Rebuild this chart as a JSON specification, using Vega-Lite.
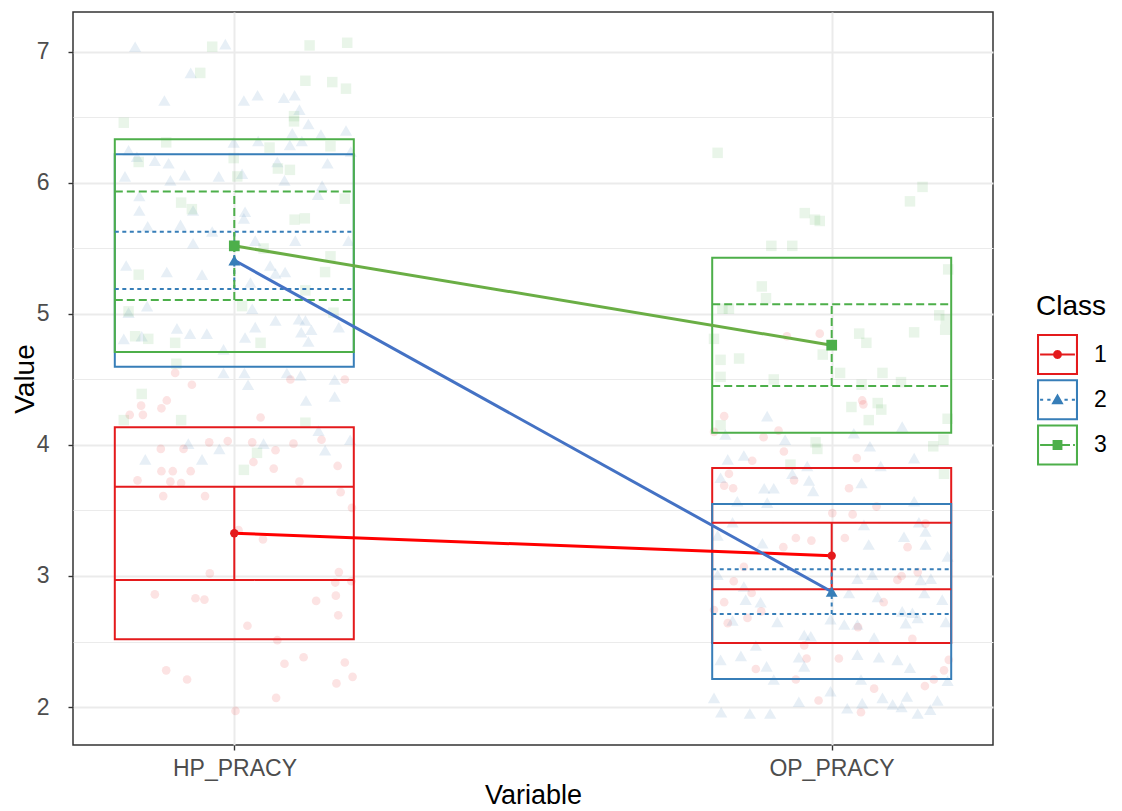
{
  "$schema": "https://vega.github.io/schema/vega-lite/v6.json",
  "width": 920,
  "height": 733,
  "autosize": "none",
  "padding": {"left": 73, "top": 12, "right": 129, "bottom": 66},
  "background": "white",
  "config": {
    "view": {"stroke": "#333333", "strokeWidth": 1.5},
    "axis": {
      "domain": false,
      "tickColor": "#333333",
      "tickSize": 5,
      "tickWidth": 1.4,
      "labelColor": "#4D4D4D",
      "labelFont": "Liberation Sans",
      "labelFontSize": 23,
      "titleFont": "Liberation Sans",
      "titleFontSize": 28,
      "titleFontWeight": "normal",
      "titleColor": "#000000",
      "gridColor": "#EBEBEB",
      "gridWidth": 2
    }
  },
  "datasets": {
    "summary": [
      {"Variable": "HP_PRACY", "Class": "1", "x": 1, "Mean": 3.326, "CI_low": 2.969, "CI_high": 3.682, "SD_low": 2.517, "SD_high": 4.135},
      {"Variable": "HP_PRACY", "Class": "2", "x": 1, "Mean": 5.41, "CI_low": 5.191, "CI_high": 5.628, "SD_low": 4.598, "SD_high": 6.219},
      {"Variable": "HP_PRACY", "Class": "3", "x": 1, "Mean": 5.52, "CI_low": 5.107, "CI_high": 5.934, "SD_low": 4.71, "SD_high": 6.334},
      {"Variable": "OP_PRACY", "Class": "1", "x": 2, "Mean": 3.155, "CI_low": 2.898, "CI_high": 3.407, "SD_low": 2.488, "SD_high": 3.824},
      {"Variable": "OP_PRACY", "Class": "2", "x": 2, "Mean": 2.88, "CI_low": 2.71, "CI_high": 3.051, "SD_low": 2.214, "SD_high": 3.55},
      {"Variable": "OP_PRACY", "Class": "3", "x": 2, "Mean": 4.762, "CI_low": 4.45, "CI_high": 5.074, "SD_low": 4.094, "SD_high": 5.43}
    ],
    "jitter": [
      {"Variable": "HP_PRACY", "Class": "2", "x": 0.834, "Value": 7.04},
      {"Variable": "HP_PRACY", "Class": "2", "x": 0.985, "Value": 7.06},
      {"Variable": "HP_PRACY", "Class": "2", "x": 0.927, "Value": 6.84},
      {"Variable": "HP_PRACY", "Class": "2", "x": 0.883, "Value": 6.63},
      {"Variable": "HP_PRACY", "Class": "2", "x": 1.016, "Value": 6.63},
      {"Variable": "HP_PRACY", "Class": "2", "x": 1.039, "Value": 6.67},
      {"Variable": "HP_PRACY", "Class": "2", "x": 1.101, "Value": 6.67},
      {"Variable": "HP_PRACY", "Class": "2", "x": 1.083, "Value": 6.65},
      {"Variable": "HP_PRACY", "Class": "2", "x": 1.109, "Value": 6.56},
      {"Variable": "HP_PRACY", "Class": "2", "x": 1.124, "Value": 6.45},
      {"Variable": "HP_PRACY", "Class": "2", "x": 1.097, "Value": 6.38},
      {"Variable": "HP_PRACY", "Class": "2", "x": 1.145, "Value": 6.37},
      {"Variable": "HP_PRACY", "Class": "2", "x": 1.187, "Value": 6.40},
      {"Variable": "HP_PRACY", "Class": "2", "x": 1.113, "Value": 6.32},
      {"Variable": "HP_PRACY", "Class": "2", "x": 1.093, "Value": 6.29},
      {"Variable": "HP_PRACY", "Class": "2", "x": 1.040, "Value": 6.32},
      {"Variable": "HP_PRACY", "Class": "2", "x": 0.999, "Value": 6.31},
      {"Variable": "HP_PRACY", "Class": "2", "x": 0.823, "Value": 6.25},
      {"Variable": "HP_PRACY", "Class": "2", "x": 0.837, "Value": 6.20},
      {"Variable": "HP_PRACY", "Class": "2", "x": 0.867, "Value": 6.17},
      {"Variable": "HP_PRACY", "Class": "2", "x": 0.890, "Value": 6.15},
      {"Variable": "HP_PRACY", "Class": "2", "x": 0.817, "Value": 6.05},
      {"Variable": "HP_PRACY", "Class": "2", "x": 0.893, "Value": 6.02},
      {"Variable": "HP_PRACY", "Class": "2", "x": 0.917, "Value": 6.06},
      {"Variable": "HP_PRACY", "Class": "2", "x": 0.974, "Value": 6.05},
      {"Variable": "HP_PRACY", "Class": "2", "x": 1.013, "Value": 6.07},
      {"Variable": "HP_PRACY", "Class": "2", "x": 1.072, "Value": 6.16},
      {"Variable": "HP_PRACY", "Class": "2", "x": 1.084, "Value": 6.02},
      {"Variable": "HP_PRACY", "Class": "2", "x": 1.156, "Value": 6.15},
      {"Variable": "HP_PRACY", "Class": "2", "x": 1.147, "Value": 5.98},
      {"Variable": "HP_PRACY", "Class": "2", "x": 1.195, "Value": 6.24},
      {"Variable": "HP_PRACY", "Class": "2", "x": 0.841, "Value": 5.90},
      {"Variable": "HP_PRACY", "Class": "2", "x": 0.841, "Value": 5.79},
      {"Variable": "HP_PRACY", "Class": "2", "x": 0.931, "Value": 5.79},
      {"Variable": "HP_PRACY", "Class": "2", "x": 1.018, "Value": 5.78},
      {"Variable": "HP_PRACY", "Class": "2", "x": 1.016, "Value": 5.73},
      {"Variable": "HP_PRACY", "Class": "2", "x": 0.855, "Value": 5.67},
      {"Variable": "HP_PRACY", "Class": "2", "x": 0.910, "Value": 5.68},
      {"Variable": "HP_PRACY", "Class": "2", "x": 0.963, "Value": 5.63},
      {"Variable": "HP_PRACY", "Class": "2", "x": 1.102, "Value": 5.56},
      {"Variable": "HP_PRACY", "Class": "2", "x": 1.035, "Value": 5.56},
      {"Variable": "HP_PRACY", "Class": "2", "x": 0.931, "Value": 5.54},
      {"Variable": "HP_PRACY", "Class": "2", "x": 1.191, "Value": 5.56},
      {"Variable": "HP_PRACY", "Class": "2", "x": 1.140, "Value": 5.91},
      {"Variable": "HP_PRACY", "Class": "2", "x": 0.819, "Value": 5.37},
      {"Variable": "HP_PRACY", "Class": "2", "x": 0.887, "Value": 5.32},
      {"Variable": "HP_PRACY", "Class": "2", "x": 0.946, "Value": 5.30},
      {"Variable": "HP_PRACY", "Class": "2", "x": 1.027, "Value": 5.24},
      {"Variable": "HP_PRACY", "Class": "2", "x": 1.060, "Value": 5.37},
      {"Variable": "HP_PRACY", "Class": "2", "x": 1.085, "Value": 5.32},
      {"Variable": "HP_PRACY", "Class": "2", "x": 1.069, "Value": 5.31},
      {"Variable": "HP_PRACY", "Class": "2", "x": 0.854, "Value": 5.06},
      {"Variable": "HP_PRACY", "Class": "2", "x": 0.823, "Value": 5.01},
      {"Variable": "HP_PRACY", "Class": "2", "x": 1.030, "Value": 5.04},
      {"Variable": "HP_PRACY", "Class": "2", "x": 1.035, "Value": 4.90},
      {"Variable": "HP_PRACY", "Class": "2", "x": 1.069, "Value": 4.95},
      {"Variable": "HP_PRACY", "Class": "2", "x": 1.108, "Value": 4.96},
      {"Variable": "HP_PRACY", "Class": "2", "x": 1.119, "Value": 4.95},
      {"Variable": "HP_PRACY", "Class": "2", "x": 1.129, "Value": 4.88},
      {"Variable": "HP_PRACY", "Class": "2", "x": 1.112, "Value": 4.86},
      {"Variable": "HP_PRACY", "Class": "2", "x": 1.124, "Value": 4.79},
      {"Variable": "HP_PRACY", "Class": "2", "x": 1.175, "Value": 4.90},
      {"Variable": "HP_PRACY", "Class": "2", "x": 0.904, "Value": 4.89},
      {"Variable": "HP_PRACY", "Class": "2", "x": 0.926, "Value": 4.85},
      {"Variable": "HP_PRACY", "Class": "2", "x": 0.954, "Value": 4.85},
      {"Variable": "HP_PRACY", "Class": "2", "x": 0.845, "Value": 4.83},
      {"Variable": "HP_PRACY", "Class": "2", "x": 0.815, "Value": 4.81},
      {"Variable": "HP_PRACY", "Class": "2", "x": 1.018, "Value": 4.82},
      {"Variable": "HP_PRACY", "Class": "2", "x": 0.982, "Value": 4.73},
      {"Variable": "HP_PRACY", "Class": "2", "x": 0.982, "Value": 4.55},
      {"Variable": "HP_PRACY", "Class": "2", "x": 1.017, "Value": 4.55},
      {"Variable": "HP_PRACY", "Class": "2", "x": 1.088, "Value": 4.55},
      {"Variable": "HP_PRACY", "Class": "2", "x": 1.111, "Value": 4.53},
      {"Variable": "HP_PRACY", "Class": "2", "x": 1.168, "Value": 4.50},
      {"Variable": "HP_PRACY", "Class": "2", "x": 1.168, "Value": 4.37},
      {"Variable": "HP_PRACY", "Class": "2", "x": 1.120, "Value": 4.34},
      {"Variable": "HP_PRACY", "Class": "2", "x": 1.023, "Value": 4.46},
      {"Variable": "HP_PRACY", "Class": "2", "x": 1.141, "Value": 4.11},
      {"Variable": "HP_PRACY", "Class": "2", "x": 1.194, "Value": 4.04},
      {"Variable": "HP_PRACY", "Class": "2", "x": 1.049, "Value": 4.01},
      {"Variable": "HP_PRACY", "Class": "2", "x": 0.975, "Value": 3.97},
      {"Variable": "HP_PRACY", "Class": "2", "x": 0.946, "Value": 3.89},
      {"Variable": "HP_PRACY", "Class": "2", "x": 1.152, "Value": 3.96},
      {"Variable": "HP_PRACY", "Class": "2", "x": 0.851, "Value": 3.89},
      {"Variable": "HP_PRACY", "Class": "2", "x": 0.923, "Value": 4.01},
      {"Variable": "HP_PRACY", "Class": "3", "x": 0.963, "Value": 7.04},
      {"Variable": "HP_PRACY", "Class": "3", "x": 1.126, "Value": 7.05},
      {"Variable": "HP_PRACY", "Class": "3", "x": 1.189, "Value": 7.07},
      {"Variable": "HP_PRACY", "Class": "3", "x": 0.943, "Value": 6.84},
      {"Variable": "HP_PRACY", "Class": "3", "x": 1.119, "Value": 6.78},
      {"Variable": "HP_PRACY", "Class": "3", "x": 1.164, "Value": 6.77},
      {"Variable": "HP_PRACY", "Class": "3", "x": 1.187, "Value": 6.72},
      {"Variable": "HP_PRACY", "Class": "3", "x": 0.815, "Value": 6.46},
      {"Variable": "HP_PRACY", "Class": "3", "x": 1.100, "Value": 6.51},
      {"Variable": "HP_PRACY", "Class": "3", "x": 1.100, "Value": 6.47},
      {"Variable": "HP_PRACY", "Class": "3", "x": 0.886, "Value": 6.31},
      {"Variable": "HP_PRACY", "Class": "3", "x": 1.059, "Value": 6.27},
      {"Variable": "HP_PRACY", "Class": "3", "x": 1.161, "Value": 6.28},
      {"Variable": "HP_PRACY", "Class": "3", "x": 0.840, "Value": 6.16},
      {"Variable": "HP_PRACY", "Class": "3", "x": 0.999, "Value": 6.19},
      {"Variable": "HP_PRACY", "Class": "3", "x": 1.073, "Value": 6.11},
      {"Variable": "HP_PRACY", "Class": "3", "x": 1.093, "Value": 6.10},
      {"Variable": "HP_PRACY", "Class": "3", "x": 1.005, "Value": 6.05},
      {"Variable": "HP_PRACY", "Class": "3", "x": 0.911, "Value": 5.85},
      {"Variable": "HP_PRACY", "Class": "3", "x": 0.929, "Value": 5.80},
      {"Variable": "HP_PRACY", "Class": "3", "x": 1.101, "Value": 5.72},
      {"Variable": "HP_PRACY", "Class": "3", "x": 1.118, "Value": 5.73},
      {"Variable": "HP_PRACY", "Class": "3", "x": 1.185, "Value": 5.88},
      {"Variable": "HP_PRACY", "Class": "3", "x": 1.049, "Value": 5.50},
      {"Variable": "HP_PRACY", "Class": "3", "x": 1.161, "Value": 5.44},
      {"Variable": "HP_PRACY", "Class": "3", "x": 0.840, "Value": 5.30},
      {"Variable": "HP_PRACY", "Class": "3", "x": 1.152, "Value": 5.32},
      {"Variable": "HP_PRACY", "Class": "3", "x": 1.119, "Value": 5.18},
      {"Variable": "HP_PRACY", "Class": "3", "x": 1.013, "Value": 5.06},
      {"Variable": "HP_PRACY", "Class": "3", "x": 0.823, "Value": 5.02},
      {"Variable": "HP_PRACY", "Class": "3", "x": 1.166, "Value": 5.01},
      {"Variable": "HP_PRACY", "Class": "3", "x": 0.834, "Value": 4.83},
      {"Variable": "HP_PRACY", "Class": "3", "x": 0.856, "Value": 4.81},
      {"Variable": "HP_PRACY", "Class": "3", "x": 0.901, "Value": 4.78},
      {"Variable": "HP_PRACY", "Class": "3", "x": 1.044, "Value": 4.78},
      {"Variable": "HP_PRACY", "Class": "3", "x": 0.903, "Value": 4.62},
      {"Variable": "HP_PRACY", "Class": "3", "x": 0.845, "Value": 4.39},
      {"Variable": "HP_PRACY", "Class": "3", "x": 0.911, "Value": 4.19},
      {"Variable": "HP_PRACY", "Class": "3", "x": 0.815, "Value": 4.19},
      {"Variable": "HP_PRACY", "Class": "3", "x": 1.119, "Value": 4.17},
      {"Variable": "HP_PRACY", "Class": "3", "x": 1.038, "Value": 3.94},
      {"Variable": "HP_PRACY", "Class": "3", "x": 1.016, "Value": 3.81},
      {"Variable": "HP_PRACY", "Class": "1", "x": 0.901, "Value": 4.55},
      {"Variable": "HP_PRACY", "Class": "1", "x": 0.929, "Value": 4.46},
      {"Variable": "HP_PRACY", "Class": "1", "x": 0.887, "Value": 4.34},
      {"Variable": "HP_PRACY", "Class": "1", "x": 0.844, "Value": 4.30},
      {"Variable": "HP_PRACY", "Class": "1", "x": 0.878, "Value": 4.28},
      {"Variable": "HP_PRACY", "Class": "1", "x": 0.825, "Value": 4.23},
      {"Variable": "HP_PRACY", "Class": "1", "x": 0.847, "Value": 4.23},
      {"Variable": "HP_PRACY", "Class": "1", "x": 1.044, "Value": 4.21},
      {"Variable": "HP_PRACY", "Class": "1", "x": 1.094, "Value": 4.50},
      {"Variable": "HP_PRACY", "Class": "1", "x": 1.185, "Value": 4.50},
      {"Variable": "HP_PRACY", "Class": "1", "x": 0.958, "Value": 4.02},
      {"Variable": "HP_PRACY", "Class": "1", "x": 0.989, "Value": 4.03},
      {"Variable": "HP_PRACY", "Class": "1", "x": 1.030, "Value": 4.02},
      {"Variable": "HP_PRACY", "Class": "1", "x": 1.069, "Value": 3.96},
      {"Variable": "HP_PRACY", "Class": "1", "x": 1.099, "Value": 4.01},
      {"Variable": "HP_PRACY", "Class": "1", "x": 1.146, "Value": 4.04},
      {"Variable": "HP_PRACY", "Class": "1", "x": 0.877, "Value": 3.97},
      {"Variable": "HP_PRACY", "Class": "1", "x": 0.915, "Value": 3.97},
      {"Variable": "HP_PRACY", "Class": "1", "x": 1.032, "Value": 3.87},
      {"Variable": "HP_PRACY", "Class": "1", "x": 1.066, "Value": 3.82},
      {"Variable": "HP_PRACY", "Class": "1", "x": 1.173, "Value": 3.84},
      {"Variable": "HP_PRACY", "Class": "1", "x": 0.878, "Value": 3.80},
      {"Variable": "HP_PRACY", "Class": "1", "x": 0.897, "Value": 3.80},
      {"Variable": "HP_PRACY", "Class": "1", "x": 0.927, "Value": 3.80},
      {"Variable": "HP_PRACY", "Class": "1", "x": 0.838, "Value": 3.73},
      {"Variable": "HP_PRACY", "Class": "1", "x": 0.893, "Value": 3.72},
      {"Variable": "HP_PRACY", "Class": "1", "x": 0.911, "Value": 3.71},
      {"Variable": "HP_PRACY", "Class": "1", "x": 1.109, "Value": 3.72},
      {"Variable": "HP_PRACY", "Class": "1", "x": 0.881, "Value": 3.61},
      {"Variable": "HP_PRACY", "Class": "1", "x": 0.951, "Value": 3.61},
      {"Variable": "HP_PRACY", "Class": "1", "x": 1.178, "Value": 3.64},
      {"Variable": "HP_PRACY", "Class": "1", "x": 1.197, "Value": 3.52},
      {"Variable": "HP_PRACY", "Class": "1", "x": 1.007, "Value": 3.35},
      {"Variable": "HP_PRACY", "Class": "1", "x": 1.048, "Value": 3.28},
      {"Variable": "HP_PRACY", "Class": "1", "x": 0.959, "Value": 3.02},
      {"Variable": "HP_PRACY", "Class": "1", "x": 1.175, "Value": 3.03},
      {"Variable": "HP_PRACY", "Class": "1", "x": 1.169, "Value": 2.95},
      {"Variable": "HP_PRACY", "Class": "1", "x": 1.196, "Value": 2.96},
      {"Variable": "HP_PRACY", "Class": "1", "x": 0.867, "Value": 2.86},
      {"Variable": "HP_PRACY", "Class": "1", "x": 0.935, "Value": 2.83},
      {"Variable": "HP_PRACY", "Class": "1", "x": 0.950, "Value": 2.82},
      {"Variable": "HP_PRACY", "Class": "1", "x": 1.170, "Value": 2.85},
      {"Variable": "HP_PRACY", "Class": "1", "x": 1.137, "Value": 2.81},
      {"Variable": "HP_PRACY", "Class": "1", "x": 1.174, "Value": 2.70},
      {"Variable": "HP_PRACY", "Class": "1", "x": 1.022, "Value": 2.62},
      {"Variable": "HP_PRACY", "Class": "1", "x": 1.072, "Value": 2.51},
      {"Variable": "HP_PRACY", "Class": "1", "x": 0.886, "Value": 2.28},
      {"Variable": "HP_PRACY", "Class": "1", "x": 0.921, "Value": 2.21},
      {"Variable": "HP_PRACY", "Class": "1", "x": 1.084, "Value": 2.33},
      {"Variable": "HP_PRACY", "Class": "1", "x": 1.116, "Value": 2.38},
      {"Variable": "HP_PRACY", "Class": "1", "x": 1.185, "Value": 2.34},
      {"Variable": "HP_PRACY", "Class": "1", "x": 1.198, "Value": 2.23},
      {"Variable": "HP_PRACY", "Class": "1", "x": 1.171, "Value": 2.18},
      {"Variable": "HP_PRACY", "Class": "1", "x": 1.070, "Value": 2.07},
      {"Variable": "HP_PRACY", "Class": "1", "x": 1.002, "Value": 1.97},
      {"Variable": "OP_PRACY", "Class": "3", "x": 1.809, "Value": 6.23},
      {"Variable": "OP_PRACY", "Class": "3", "x": 2.152, "Value": 5.97},
      {"Variable": "OP_PRACY", "Class": "3", "x": 2.131, "Value": 5.86},
      {"Variable": "OP_PRACY", "Class": "3", "x": 1.955, "Value": 5.77},
      {"Variable": "OP_PRACY", "Class": "3", "x": 1.972, "Value": 5.72},
      {"Variable": "OP_PRACY", "Class": "3", "x": 1.980, "Value": 5.71},
      {"Variable": "OP_PRACY", "Class": "3", "x": 1.899, "Value": 5.52},
      {"Variable": "OP_PRACY", "Class": "3", "x": 1.934, "Value": 5.52},
      {"Variable": "OP_PRACY", "Class": "3", "x": 2.195, "Value": 5.34},
      {"Variable": "OP_PRACY", "Class": "3", "x": 1.883, "Value": 5.21},
      {"Variable": "OP_PRACY", "Class": "3", "x": 1.890, "Value": 5.12},
      {"Variable": "OP_PRACY", "Class": "3", "x": 1.817, "Value": 5.04},
      {"Variable": "OP_PRACY", "Class": "3", "x": 1.828, "Value": 5.04},
      {"Variable": "OP_PRACY", "Class": "3", "x": 2.180, "Value": 4.99},
      {"Variable": "OP_PRACY", "Class": "3", "x": 2.191, "Value": 4.96},
      {"Variable": "OP_PRACY", "Class": "3", "x": 2.190, "Value": 4.88},
      {"Variable": "OP_PRACY", "Class": "3", "x": 1.803, "Value": 4.81},
      {"Variable": "OP_PRACY", "Class": "3", "x": 2.046, "Value": 4.85},
      {"Variable": "OP_PRACY", "Class": "3", "x": 2.058, "Value": 4.78},
      {"Variable": "OP_PRACY", "Class": "3", "x": 2.138, "Value": 4.86},
      {"Variable": "OP_PRACY", "Class": "3", "x": 1.985, "Value": 4.69},
      {"Variable": "OP_PRACY", "Class": "3", "x": 1.814, "Value": 4.65},
      {"Variable": "OP_PRACY", "Class": "3", "x": 1.845, "Value": 4.66},
      {"Variable": "OP_PRACY", "Class": "3", "x": 1.814, "Value": 4.52},
      {"Variable": "OP_PRACY", "Class": "3", "x": 1.903, "Value": 4.50},
      {"Variable": "OP_PRACY", "Class": "3", "x": 2.014, "Value": 4.55},
      {"Variable": "OP_PRACY", "Class": "3", "x": 2.085, "Value": 4.55},
      {"Variable": "OP_PRACY", "Class": "3", "x": 2.116, "Value": 4.48},
      {"Variable": "OP_PRACY", "Class": "3", "x": 2.050, "Value": 4.46},
      {"Variable": "OP_PRACY", "Class": "3", "x": 2.033, "Value": 4.29},
      {"Variable": "OP_PRACY", "Class": "3", "x": 2.077, "Value": 4.32},
      {"Variable": "OP_PRACY", "Class": "3", "x": 2.083, "Value": 4.27},
      {"Variable": "OP_PRACY", "Class": "3", "x": 2.062, "Value": 4.19},
      {"Variable": "OP_PRACY", "Class": "3", "x": 2.194, "Value": 4.20},
      {"Variable": "OP_PRACY", "Class": "3", "x": 1.973, "Value": 4.02},
      {"Variable": "OP_PRACY", "Class": "3", "x": 1.976, "Value": 3.97},
      {"Variable": "OP_PRACY", "Class": "3", "x": 2.187, "Value": 4.04},
      {"Variable": "OP_PRACY", "Class": "3", "x": 2.170, "Value": 3.99},
      {"Variable": "OP_PRACY", "Class": "3", "x": 1.814, "Value": 4.15},
      {"Variable": "OP_PRACY", "Class": "3", "x": 1.931, "Value": 3.85},
      {"Variable": "OP_PRACY", "Class": "3", "x": 2.188, "Value": 3.78},
      {"Variable": "OP_PRACY", "Class": "1", "x": 1.925, "Value": 4.83},
      {"Variable": "OP_PRACY", "Class": "1", "x": 1.980, "Value": 4.85},
      {"Variable": "OP_PRACY", "Class": "1", "x": 1.820, "Value": 4.22},
      {"Variable": "OP_PRACY", "Class": "1", "x": 1.803, "Value": 4.10},
      {"Variable": "OP_PRACY", "Class": "1", "x": 1.886, "Value": 4.06},
      {"Variable": "OP_PRACY", "Class": "1", "x": 1.911, "Value": 4.11},
      {"Variable": "OP_PRACY", "Class": "1", "x": 1.920, "Value": 3.95},
      {"Variable": "OP_PRACY", "Class": "1", "x": 2.051, "Value": 4.34},
      {"Variable": "OP_PRACY", "Class": "1", "x": 2.053, "Value": 4.31},
      {"Variable": "OP_PRACY", "Class": "1", "x": 2.042, "Value": 3.90},
      {"Variable": "OP_PRACY", "Class": "1", "x": 1.867, "Value": 3.88},
      {"Variable": "OP_PRACY", "Class": "1", "x": 1.828, "Value": 3.78},
      {"Variable": "OP_PRACY", "Class": "1", "x": 1.820, "Value": 3.69},
      {"Variable": "OP_PRACY", "Class": "1", "x": 1.835, "Value": 3.67},
      {"Variable": "OP_PRACY", "Class": "1", "x": 1.937, "Value": 3.73},
      {"Variable": "OP_PRACY", "Class": "1", "x": 2.029, "Value": 3.67},
      {"Variable": "OP_PRACY", "Class": "1", "x": 2.001, "Value": 3.48},
      {"Variable": "OP_PRACY", "Class": "1", "x": 2.035, "Value": 3.47},
      {"Variable": "OP_PRACY", "Class": "1", "x": 2.075, "Value": 3.53},
      {"Variable": "OP_PRACY", "Class": "1", "x": 2.157, "Value": 3.40},
      {"Variable": "OP_PRACY", "Class": "1", "x": 1.940, "Value": 3.29},
      {"Variable": "OP_PRACY", "Class": "1", "x": 1.966, "Value": 3.27},
      {"Variable": "OP_PRACY", "Class": "1", "x": 2.022, "Value": 3.29},
      {"Variable": "OP_PRACY", "Class": "1", "x": 1.919, "Value": 3.22},
      {"Variable": "OP_PRACY", "Class": "1", "x": 2.127, "Value": 3.22},
      {"Variable": "OP_PRACY", "Class": "1", "x": 1.836, "Value": 2.96},
      {"Variable": "OP_PRACY", "Class": "1", "x": 1.820, "Value": 2.80},
      {"Variable": "OP_PRACY", "Class": "1", "x": 1.803, "Value": 2.74},
      {"Variable": "OP_PRACY", "Class": "1", "x": 1.826, "Value": 2.64},
      {"Variable": "OP_PRACY", "Class": "1", "x": 1.859, "Value": 2.68},
      {"Variable": "OP_PRACY", "Class": "1", "x": 1.882, "Value": 2.73},
      {"Variable": "OP_PRACY", "Class": "1", "x": 1.866, "Value": 2.87},
      {"Variable": "OP_PRACY", "Class": "1", "x": 1.853, "Value": 3.07},
      {"Variable": "OP_PRACY", "Class": "1", "x": 2.087, "Value": 2.80},
      {"Variable": "OP_PRACY", "Class": "1", "x": 2.110, "Value": 2.97},
      {"Variable": "OP_PRACY", "Class": "1", "x": 2.117, "Value": 3.00},
      {"Variable": "OP_PRACY", "Class": "1", "x": 2.144, "Value": 3.03},
      {"Variable": "OP_PRACY", "Class": "1", "x": 2.044, "Value": 2.61},
      {"Variable": "OP_PRACY", "Class": "1", "x": 2.135, "Value": 2.52},
      {"Variable": "OP_PRACY", "Class": "1", "x": 1.954, "Value": 2.47},
      {"Variable": "OP_PRACY", "Class": "1", "x": 1.958, "Value": 2.37},
      {"Variable": "OP_PRACY", "Class": "1", "x": 2.012, "Value": 2.37},
      {"Variable": "OP_PRACY", "Class": "1", "x": 1.873, "Value": 2.29},
      {"Variable": "OP_PRACY", "Class": "1", "x": 1.940, "Value": 2.21},
      {"Variable": "OP_PRACY", "Class": "1", "x": 2.071, "Value": 2.14},
      {"Variable": "OP_PRACY", "Class": "1", "x": 2.156, "Value": 2.16},
      {"Variable": "OP_PRACY", "Class": "1", "x": 2.171, "Value": 2.21},
      {"Variable": "OP_PRACY", "Class": "1", "x": 2.196, "Value": 2.36},
      {"Variable": "OP_PRACY", "Class": "1", "x": 2.188, "Value": 2.28},
      {"Variable": "OP_PRACY", "Class": "1", "x": 1.978, "Value": 2.05},
      {"Variable": "OP_PRACY", "Class": "1", "x": 2.049, "Value": 1.96},
      {"Variable": "OP_PRACY", "Class": "2", "x": 1.822, "Value": 4.08},
      {"Variable": "OP_PRACY", "Class": "2", "x": 1.892, "Value": 4.22},
      {"Variable": "OP_PRACY", "Class": "2", "x": 1.922, "Value": 4.04},
      {"Variable": "OP_PRACY", "Class": "2", "x": 2.037, "Value": 4.09},
      {"Variable": "OP_PRACY", "Class": "2", "x": 2.064, "Value": 3.99},
      {"Variable": "OP_PRACY", "Class": "2", "x": 2.118, "Value": 4.14},
      {"Variable": "OP_PRACY", "Class": "2", "x": 2.138, "Value": 3.90},
      {"Variable": "OP_PRACY", "Class": "2", "x": 1.826, "Value": 3.89},
      {"Variable": "OP_PRACY", "Class": "2", "x": 1.853, "Value": 3.92},
      {"Variable": "OP_PRACY", "Class": "2", "x": 1.959, "Value": 3.84},
      {"Variable": "OP_PRACY", "Class": "2", "x": 1.934, "Value": 3.78},
      {"Variable": "OP_PRACY", "Class": "2", "x": 2.082, "Value": 3.84},
      {"Variable": "OP_PRACY", "Class": "2", "x": 1.814, "Value": 3.75},
      {"Variable": "OP_PRACY", "Class": "2", "x": 1.962, "Value": 3.73},
      {"Variable": "OP_PRACY", "Class": "2", "x": 2.050, "Value": 3.71},
      {"Variable": "OP_PRACY", "Class": "2", "x": 1.887, "Value": 3.67},
      {"Variable": "OP_PRACY", "Class": "2", "x": 1.903, "Value": 3.67},
      {"Variable": "OP_PRACY", "Class": "2", "x": 1.969, "Value": 3.65},
      {"Variable": "OP_PRACY", "Class": "2", "x": 1.842, "Value": 3.57},
      {"Variable": "OP_PRACY", "Class": "2", "x": 1.892, "Value": 3.56},
      {"Variable": "OP_PRACY", "Class": "2", "x": 2.138, "Value": 3.57},
      {"Variable": "OP_PRACY", "Class": "2", "x": 1.834, "Value": 3.41},
      {"Variable": "OP_PRACY", "Class": "2", "x": 2.054, "Value": 3.39},
      {"Variable": "OP_PRACY", "Class": "2", "x": 2.146, "Value": 3.41},
      {"Variable": "OP_PRACY", "Class": "2", "x": 2.157, "Value": 3.34},
      {"Variable": "OP_PRACY", "Class": "2", "x": 1.884, "Value": 3.25},
      {"Variable": "OP_PRACY", "Class": "2", "x": 1.809, "Value": 3.31},
      {"Variable": "OP_PRACY", "Class": "2", "x": 2.062, "Value": 3.24},
      {"Variable": "OP_PRACY", "Class": "2", "x": 2.121, "Value": 3.30},
      {"Variable": "OP_PRACY", "Class": "2", "x": 2.157, "Value": 3.24},
      {"Variable": "OP_PRACY", "Class": "2", "x": 2.194, "Value": 3.15},
      {"Variable": "OP_PRACY", "Class": "2", "x": 1.809, "Value": 3.01},
      {"Variable": "OP_PRACY", "Class": "2", "x": 1.853, "Value": 2.92},
      {"Variable": "OP_PRACY", "Class": "2", "x": 1.856, "Value": 2.82},
      {"Variable": "OP_PRACY", "Class": "2", "x": 2.043, "Value": 2.98},
      {"Variable": "OP_PRACY", "Class": "2", "x": 2.068, "Value": 3.01},
      {"Variable": "OP_PRACY", "Class": "2", "x": 2.149, "Value": 2.97},
      {"Variable": "OP_PRACY", "Class": "2", "x": 2.166, "Value": 2.98},
      {"Variable": "OP_PRACY", "Class": "2", "x": 2.029, "Value": 2.87},
      {"Variable": "OP_PRACY", "Class": "2", "x": 2.077, "Value": 2.84},
      {"Variable": "OP_PRACY", "Class": "2", "x": 2.155, "Value": 2.87},
      {"Variable": "OP_PRACY", "Class": "2", "x": 2.185, "Value": 2.82},
      {"Variable": "OP_PRACY", "Class": "2", "x": 1.881, "Value": 2.80},
      {"Variable": "OP_PRACY", "Class": "2", "x": 2.118, "Value": 2.73},
      {"Variable": "OP_PRACY", "Class": "2", "x": 2.135, "Value": 2.72},
      {"Variable": "OP_PRACY", "Class": "2", "x": 2.144, "Value": 2.68},
      {"Variable": "OP_PRACY", "Class": "2", "x": 1.834, "Value": 2.66},
      {"Variable": "OP_PRACY", "Class": "2", "x": 1.909, "Value": 2.65},
      {"Variable": "OP_PRACY", "Class": "2", "x": 1.998, "Value": 2.67},
      {"Variable": "OP_PRACY", "Class": "2", "x": 2.021, "Value": 2.63},
      {"Variable": "OP_PRACY", "Class": "2", "x": 2.043, "Value": 2.63},
      {"Variable": "OP_PRACY", "Class": "2", "x": 2.124, "Value": 2.64},
      {"Variable": "OP_PRACY", "Class": "2", "x": 2.191, "Value": 2.65},
      {"Variable": "OP_PRACY", "Class": "2", "x": 2.071, "Value": 2.53},
      {"Variable": "OP_PRACY", "Class": "2", "x": 1.954, "Value": 2.55},
      {"Variable": "OP_PRACY", "Class": "2", "x": 1.965, "Value": 2.54},
      {"Variable": "OP_PRACY", "Class": "2", "x": 1.873, "Value": 2.47},
      {"Variable": "OP_PRACY", "Class": "2", "x": 1.814, "Value": 2.36},
      {"Variable": "OP_PRACY", "Class": "2", "x": 1.848, "Value": 2.39},
      {"Variable": "OP_PRACY", "Class": "2", "x": 1.945, "Value": 2.38},
      {"Variable": "OP_PRACY", "Class": "2", "x": 2.043, "Value": 2.40},
      {"Variable": "OP_PRACY", "Class": "2", "x": 2.079, "Value": 2.38},
      {"Variable": "OP_PRACY", "Class": "2", "x": 2.110, "Value": 2.36},
      {"Variable": "OP_PRACY", "Class": "2", "x": 1.954, "Value": 2.31},
      {"Variable": "OP_PRACY", "Class": "2", "x": 1.891, "Value": 2.31},
      {"Variable": "OP_PRACY", "Class": "2", "x": 2.131, "Value": 2.30},
      {"Variable": "OP_PRACY", "Class": "2", "x": 1.903, "Value": 2.21},
      {"Variable": "OP_PRACY", "Class": "2", "x": 2.049, "Value": 2.21},
      {"Variable": "OP_PRACY", "Class": "2", "x": 2.194, "Value": 2.20},
      {"Variable": "OP_PRACY", "Class": "2", "x": 1.998, "Value": 2.12},
      {"Variable": "OP_PRACY", "Class": "2", "x": 1.803, "Value": 2.07},
      {"Variable": "OP_PRACY", "Class": "2", "x": 1.945, "Value": 2.04},
      {"Variable": "OP_PRACY", "Class": "2", "x": 2.085, "Value": 2.07},
      {"Variable": "OP_PRACY", "Class": "2", "x": 2.126, "Value": 2.08},
      {"Variable": "OP_PRACY", "Class": "2", "x": 2.177, "Value": 2.05},
      {"Variable": "OP_PRACY", "Class": "2", "x": 1.815, "Value": 1.96},
      {"Variable": "OP_PRACY", "Class": "2", "x": 1.863, "Value": 1.95},
      {"Variable": "OP_PRACY", "Class": "2", "x": 1.897, "Value": 1.95},
      {"Variable": "OP_PRACY", "Class": "2", "x": 2.026, "Value": 1.99},
      {"Variable": "OP_PRACY", "Class": "2", "x": 2.051, "Value": 2.03},
      {"Variable": "OP_PRACY", "Class": "2", "x": 2.102, "Value": 2.02},
      {"Variable": "OP_PRACY", "Class": "2", "x": 2.117, "Value": 2.00},
      {"Variable": "OP_PRACY", "Class": "2", "x": 2.144, "Value": 1.95},
      {"Variable": "OP_PRACY", "Class": "2", "x": 2.165, "Value": 1.98}
    ]
  },
  "resolve": {"scale": {"x": "independent", "y": "independent"}, "axis": {"x": "independent", "y": "independent"}},
  "layer": [
    {
      "resolve": {"axis": {"y": "independent"}},
      "layer": [
        {
          "data": {"name": "jitter"},
          "transform": [{"filter": "datum.Class === '1'"}],
          "mark": {"type": "point", "shape": "circle", "filled": true, "opacity": 0.12, "size": 75},
          "encoding": {
            "x": {"field": "x", "type": "quantitative", "scale": {"domain": [0.73, 2.27], "nice": false, "zero": false}, "axis": null},
            "y": {
              "field": "Value", "type": "quantitative",
              "scale": {"domain": [1.71, 7.305], "nice": false, "zero": false},
              "axis": {"values": [2, 3, 4, 5, 6, 7], "format": "d", "title": "Value", "grid": true, "orient": "left", "labelPadding": 19, "titlePadding": -3}
            },
            "color": {"field": "Class", "type": "nominal", "scale": {"domain": ["1", "2", "3"], "range": ["#E41A1C", "#377EB8", "#4DAF4A"]}, "legend": null}
          }
        },
        {
          "data": {"name": "jitter"},
          "transform": [{"filter": "datum.Class === '2'"}],
          "mark": {"type": "point", "shape": "triangle-up", "filled": true, "opacity": 0.12, "size": 150},
          "encoding": {
            "x": {"field": "x", "type": "quantitative", "axis": null},
            "y": {"field": "Value", "type": "quantitative", "axis": null},
            "color": {"field": "Class", "type": "nominal", "legend": null}
          }
        },
        {
          "data": {"name": "jitter"},
          "transform": [{"filter": "datum.Class === '3'"}],
          "mark": {"type": "point", "shape": "square", "filled": true, "opacity": 0.12, "size": 110},
          "encoding": {
            "x": {"field": "x", "type": "quantitative", "axis": null},
            "y": {"field": "Value", "type": "quantitative", "axis": null},
            "color": {"field": "Class", "type": "nominal", "legend": null}
          }
        },
        {
          "data": {"name": "summary"},
          "mark": {"type": "rect", "filled": false, "strokeWidth": 2, "xOffset": -119.5, "x2Offset": 119.5},
          "encoding": {
            "x": {"field": "x", "type": "quantitative", "axis": null},
            "x2": {"field": "x"},
            "y": {"field": "SD_low", "type": "quantitative", "axis": {"values": [2.5, 3.5, 4.5, 5.5, 6.5], "grid": true, "gridWidth": 1.1, "labels": false, "ticks": false, "domain": false, "title": null, "orient": "left"}},
            "y2": {"field": "SD_high"},
            "color": {"field": "Class", "type": "nominal", "legend": null}
          }
        },
        {
          "data": {"name": "summary"},
          "mark": {"type": "rule", "strokeWidth": 2, "xOffset": -119.5, "x2Offset": 119.5},
          "encoding": {
            "x": {"field": "x", "type": "quantitative", "axis": null},
            "x2": {"field": "x"},
            "y": {"field": "CI_low", "type": "quantitative", "axis": null},
            "color": {"field": "Class", "type": "nominal", "legend": null},
            "strokeDash": {"field": "Class", "type": "nominal", "scale": {"domain": ["1", "2", "3"], "range": [[1, 0], [4, 3.5], [8, 4]]}, "legend": null}
          }
        },
        {
          "data": {"name": "summary"},
          "mark": {"type": "rule", "strokeWidth": 2, "xOffset": -119.5, "x2Offset": 119.5},
          "encoding": {
            "x": {"field": "x", "type": "quantitative", "axis": null},
            "x2": {"field": "x"},
            "y": {"field": "CI_high", "type": "quantitative", "axis": null},
            "color": {"field": "Class", "type": "nominal", "legend": null},
            "strokeDash": {"field": "Class", "type": "nominal", "legend": null}
          }
        },
        {
          "data": {"name": "summary"},
          "mark": {"type": "rule", "strokeWidth": 2},
          "encoding": {
            "x": {"field": "x", "type": "quantitative", "axis": null},
            "y": {"field": "CI_low", "type": "quantitative", "axis": null},
            "y2": {"field": "CI_high"},
            "color": {"field": "Class", "type": "nominal", "legend": null},
            "strokeDash": {"field": "Class", "type": "nominal", "legend": null}
          }
        },
        {
          "data": {"name": "summary"},
          "mark": {"type": "line", "strokeWidth": 3},
          "encoding": {
            "x": {"field": "x", "type": "quantitative", "axis": null},
            "y": {"field": "Mean", "type": "quantitative", "axis": null},
            "stroke": {"field": "Class", "type": "nominal", "scale": {"domain": ["1", "2", "3"], "range": ["#FF0000", "#4472C4", "#6AAE45"]}, "legend": null}
          }
        },
        {
          "data": {"name": "summary"},
          "transform": [{"filter": "datum.Class === '1'"}],
          "mark": {"type": "point", "shape": "circle", "filled": true, "opacity": 1, "size": 70},
          "encoding": {
            "x": {"field": "x", "type": "quantitative", "axis": null},
            "y": {"field": "Mean", "type": "quantitative", "axis": null},
            "color": {"field": "Class", "type": "nominal", "legend": null}
          }
        },
        {
          "data": {"name": "summary"},
          "transform": [{"filter": "datum.Class === '2'"}],
          "mark": {"type": "point", "shape": "triangle-up", "filled": true, "opacity": 1, "size": 140},
          "encoding": {
            "x": {"field": "x", "type": "quantitative", "axis": null},
            "y": {"field": "Mean", "type": "quantitative", "axis": null},
            "color": {"field": "Class", "type": "nominal", "legend": null}
          }
        },
        {
          "data": {"name": "summary"},
          "transform": [{"filter": "datum.Class === '3'"}],
          "mark": {"type": "point", "shape": "square", "filled": true, "opacity": 1, "size": 115},
          "encoding": {
            "x": {"field": "x", "type": "quantitative", "axis": null},
            "y": {"field": "Mean", "type": "quantitative", "axis": null},
            "color": {"field": "Class", "type": "nominal", "legend": null}
          }
        }
      ]
    },
    {
      "data": {"name": "summary"},
      "mark": {"type": "point", "opacity": 0},
      "encoding": {
        "x": {
          "field": "Variable", "type": "nominal",
          "scale": {"type": "point", "domain": ["HP_PRACY", "OP_PRACY"], "padding": 0.2705},
          "axis": {"title": "Variable", "titleFontSize": 27, "grid": true, "labelAngle": 0, "labelPadding": 7, "titlePadding": 2, "orient": "bottom"}
        },
        "y": {"field": "Mean", "type": "quantitative", "axis": null}
      }
    },
    {
      "data": {"name": "summary"},
      "transform": [{"filter": "datum.x === 1"}],
      "encoding": {
        "x": {"field": "Variable", "type": "nominal", "scale": {"type": "point", "domain": ["HP_PRACY"], "range": [984.5, 984.5]}, "axis": null},
        "y": {"field": "Class", "type": "nominal", "scale": {"type": "point", "domain": ["1", "2", "3"], "range": [342.5, 433], "padding": 0}, "axis": null}
      },
      "layer": [
        {
          "mark": {"type": "point", "filled": true, "opacity": 1, "size": 1681, "strokeWidth": 0},
          "encoding": {
            "color": {"field": "Class", "type": "nominal", "legend": null},
            "shape": {
              "field": "Class", "type": "nominal", "legend": null,
              "scale": {"domain": ["1", "2", "3"], "range": [
                "M-1,-1H1V1H-1Z M-0.9,-0.9V0.9H0.9V-0.9Z M-0.85,-0.05H0.85V0.05H-0.85Z M0.22,0L0.19,0.11L0.11,0.19L0,0.22L-0.11,0.19L-0.19,0.11L-0.22,0L-0.19,-0.11L-0.11,-0.19L0,-0.22L0.11,-0.19L0.19,-0.11Z",
                "M-1,-1H1V1H-1Z M-0.9,-0.9V0.9H0.9V-0.9Z M-0.85,-0.05H-0.7V0.05H-0.85Z M-0.5,-0.05H-0.34V0.05H-0.5Z M0.34,-0.05H0.5V0.05H0.34Z M0.7,-0.05H0.85V0.05H0.7Z M0,-0.3L0.3,0.22L-0.3,0.22Z",
                "M-1,-1H1V1H-1Z M-0.9,-0.9V0.9H0.9V-0.9Z M-0.85,-0.05H-0.24V0.05H-0.85Z M0.24,-0.05H0.61V0.05H0.24Z M0.76,-0.05H0.85V0.05H0.76Z M-0.24,-0.24H0.24V0.24H-0.24Z"
              ]}
            }
          }
        },
        {
          "mark": {"type": "text", "align": "left", "baseline": "middle", "dx": 36.5, "font": "Liberation Sans", "fontSize": 23, "color": "#000000"},
          "encoding": {"text": {"field": "Class", "type": "nominal"}}
        },
        {
          "transform": [{"filter": "datum.Class === '1'"}],
          "mark": {"type": "text", "align": "left", "baseline": "middle", "dx": -21.5, "dy": -47.5, "font": "Liberation Sans", "fontSize": 28, "color": "#000000", "text": "Class"},
          "encoding": {}
        }
      ]
    }
  ]
}
